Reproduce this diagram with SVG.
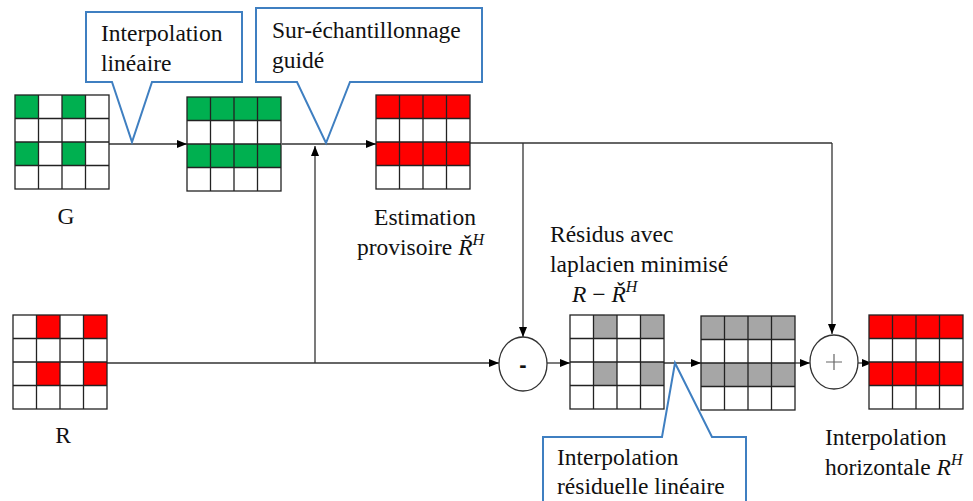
<svg xmlns="http://www.w3.org/2000/svg" xmlns:xlink="http://www.w3.org/1999/xlink" width="973" height="501" viewBox="0 0 973 501">
<style>
text{font-family:'Liberation Serif',Tinos,'Times New Roman',Times,'Noto Serif','DejaVu Serif',FreeSerif,serif;font-size:23.5px;fill:#111}
.g{fill:#00B050}.r{fill:#FF0000}.k{fill:#A6A6A6}
.gl{fill:none;stroke:#222;stroke-width:1.3}
.call{fill:#fff;stroke:#3F7FC1;stroke-width:2}
.ln{fill:none;stroke:#333;stroke-width:1.3}
.op{fill:#fff;stroke:#333;stroke-width:1.3}
.m{font-style:italic}
</style>
<defs>
<g id="gridlines">
<rect class="gl" x="0" y="0" width="94" height="94"/>
<path class="gl" d="M23.5,0V94M47,0V94M70.5,0V94M0,23.5H94M0,47H94M0,70.5H94"/>
</g>
<marker id="ah" viewBox="0 0 10 10" refX="10" refY="5" markerWidth="10" markerHeight="10" markerUnits="userSpaceOnUse" orient="auto">
<path d="M0,1L10,5L0,9Z" fill="#000"/>
</marker>
</defs>

<g id="connectors">
<path class="ln" d="M109,144H187" marker-end="url(#ah)"/>
<path class="ln" d="M282,144H376" marker-end="url(#ah)"/>
<path class="ln" d="M470,143H832"/>
<path class="ln" d="M523,143V337" marker-end="url(#ah)"/>
<path class="ln" d="M832,143V334" marker-end="url(#ah)"/>
<path class="ln" d="M107,363H499" marker-end="url(#ah)"/>
<path class="ln" d="M315,363V146" marker-end="url(#ah)"/>
<path class="ln" d="M547,363H570" marker-end="url(#ah)"/>
<path class="ln" d="M664,363H701" marker-end="url(#ah)"/>
<path class="ln" d="M795,363H810" marker-end="url(#ah)"/>
<path class="ln" d="M858,363H872" marker-end="url(#ah)"/>
</g>

<g id="callout-interp">
<path class="call" d="M86,12H242V82H152L132,142L112,82H86Z"/>
<text x="101" y="41">Interpolation</text>
<text x="101" y="71">linéaire</text>
</g>

<g id="callout-guide">
<path class="call" d="M256,8H482V82H350L326,143L297,82H256Z"/>
<text x="272" y="38">Sur-échantillonnage</text>
<text x="272" y="68">guidé</text>
</g>

<g id="grid-G">
<rect class="g" x="15" y="95" width="23.5" height="23.5"/>
<rect class="g" x="62" y="95" width="23.5" height="23.5"/>
<rect class="g" x="15" y="142" width="23.5" height="23.5"/>
<rect class="g" x="62" y="142" width="23.5" height="23.5"/>
<use xlink:href="#gridlines" x="15" y="95"/>
<text x="66" y="224" text-anchor="middle">G</text>
</g>

<g id="grid-G2">
<rect class="g" x="187" y="97" width="94" height="23.5"/>
<rect class="g" x="187" y="144" width="94" height="23.5"/>
<use xlink:href="#gridlines" x="187" y="97"/>
</g>

<g id="grid-est">
<rect class="r" x="376" y="95" width="94" height="23.5"/>
<rect class="r" x="376" y="142" width="94" height="23.5"/>
<use xlink:href="#gridlines" x="376" y="95"/>
<text x="425" y="225" text-anchor="middle">Estimation</text>
<text x="357" y="255">provisoire <tspan class="m">Ř</tspan><tspan class="m" font-size="16" dy="-10">H</tspan></text>
</g>

<g id="grid-R">
<rect class="r" x="36.5" y="315" width="23.5" height="23.5"/>
<rect class="r" x="83.5" y="315" width="23.5" height="23.5"/>
<rect class="r" x="36.5" y="362" width="23.5" height="23.5"/>
<rect class="r" x="83.5" y="362" width="23.5" height="23.5"/>
<use xlink:href="#gridlines" x="13" y="315"/>
<text x="63" y="443" text-anchor="middle">R</text>
</g>

<g id="op-minus">
<ellipse class="op" cx="523" cy="364" rx="24" ry="27"/>
<text x="523" y="372" text-anchor="middle" style="font-family:'Liberation Sans',Arial,sans-serif;font-size:22px;font-weight:bold">-</text>
</g>

<g id="grid-res">
<rect class="k" x="593.5" y="315" width="23.5" height="23.5"/>
<rect class="k" x="640.5" y="315" width="23.5" height="23.5"/>
<rect class="k" x="593.5" y="362" width="23.5" height="23.5"/>
<rect class="k" x="640.5" y="362" width="23.5" height="23.5"/>
<use xlink:href="#gridlines" x="570" y="315"/>
<text x="550" y="242">Résidus avec</text>
<text x="550" y="272">laplacien minimisé</text>
<text x="572" y="302"><tspan class="m">R</tspan> − <tspan class="m">Ř</tspan><tspan class="m" font-size="16" dy="-10">H</tspan></text>
</g>

<g id="grid-res2">
<rect class="k" x="701" y="316" width="94" height="23.5"/>
<rect class="k" x="701" y="363" width="94" height="23.5"/>
<use xlink:href="#gridlines" x="701" y="316"/>
</g>

<g id="callout-resid">
<path class="call" d="M543,437H662L675,363L712,437H746V510H543Z"/>
<text x="557" y="465">Interpolation</text>
<text x="557" y="494">résiduelle linéaire</text>
</g>

<g id="op-plus">
<ellipse class="op" cx="834" cy="362" rx="24" ry="27"/>
<path d="M834,354V370M826,362H842" stroke="#666" stroke-width="1.2" fill="none"/>
</g>

<g id="grid-final">
<rect class="r" x="869" y="315" width="94" height="23.5"/>
<rect class="r" x="869" y="362" width="94" height="23.5"/>
<use xlink:href="#gridlines" x="869" y="315"/>
<text x="825" y="445">Interpolation</text>
<text x="825" y="475">horizontale <tspan class="m">R</tspan><tspan class="m" font-size="16" dy="-10">H</tspan></text>
</g>
</svg>
